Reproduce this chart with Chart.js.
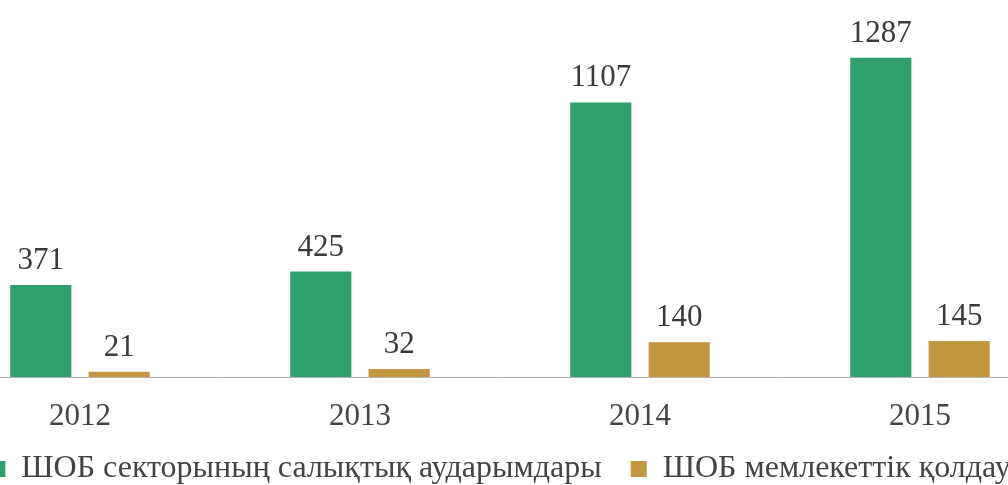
<!DOCTYPE html>
<html>
<head>
<meta charset="utf-8">
<script src="https://cdn.jsdelivr.net/npm/chart.js@4"></script>
<style>
  html, body { margin: 0; padding: 0; background: #fff; overflow: hidden; width: 1008px; height: 485px; }
  #wrap { position: absolute; left: -60px; top: 0; width: 1120px; height: 485px; }
</style>
</head>
<body>
<div id="wrap"><canvas id="c" width="1120" height="485"></canvas></div>
<script>
const years = ['2012', '2013', '2014', '2015'];
const taxTransfers = [371, 425, 1107, 1287];
const stateSupport = [21, 32, 140, 145];
const seriesNames = ['ШОБ секторының салықтық аударымдары', 'ШОБ мемлекеттік қолдау'];

const valueLabels = {
  id: 'valueLabels',
  afterDatasetsDraw(chart) {
    const ctx = chart.ctx;
    ctx.save();
    ctx.font = '31px "Liberation Serif", "DejaVu Serif", serif';
    ctx.fillStyle = '#3a3a3a';
    ctx.textAlign = 'center';
    ctx.textBaseline = 'alphabetic';
    chart.data.datasets.forEach((ds, di) => {
      const meta = chart.getDatasetMeta(di);
      meta.data.forEach((el, i) => {
        ctx.fillText(String(ds.data[i]), el.x, el.y - 16);
      });
    });
    ctx.restore();
  }
};

new Chart(document.getElementById('c'), {
  type: 'bar',
  data: {
    labels: years,
    datasets: [
      { label: seriesNames[0], data: taxTransfers, backgroundColor: '#2f9e6c', borderWidth: 0 },
      { label: seriesNames[1], data: stateSupport, backgroundColor: '#c3973f', borderWidth: 0 }
    ]
  },
  options: {
    responsive: false,
    animation: false,
    devicePixelRatio: 1,
    layout: { padding: { top: 0, left: 0, right: 0, bottom: -10 } },
    datasets: { bar: { categoryPercentage: 0.56, barPercentage: 0.78 } },
    scales: {
      y: { display: false, min: 0, max: 1520 },
      x: {
        grid: { display: false, drawTicks: false },
        border: { display: true, color: '#b5b5b5', width: 1, dash: [2, 2] },
        ticks: {
          color: '#444', padding: -58, mirror: true,
          font: { family: '"Liberation Serif", serif', size: 31, lineHeight: 1.2 }
        },
        afterFit(scale) { scale.height = 47; }
      }
    },
    plugins: {
      legend: {
        position: 'bottom',
        labels: {
          boxWidth: 16, boxHeight: 16, padding: 29, color: '#444',
          font: { family: '"Liberation Serif", serif', size: 32 }
        }
      },
      tooltip: { enabled: false }
    }
  },
  plugins: [valueLabels]
});
</script>
</body>
</html>
